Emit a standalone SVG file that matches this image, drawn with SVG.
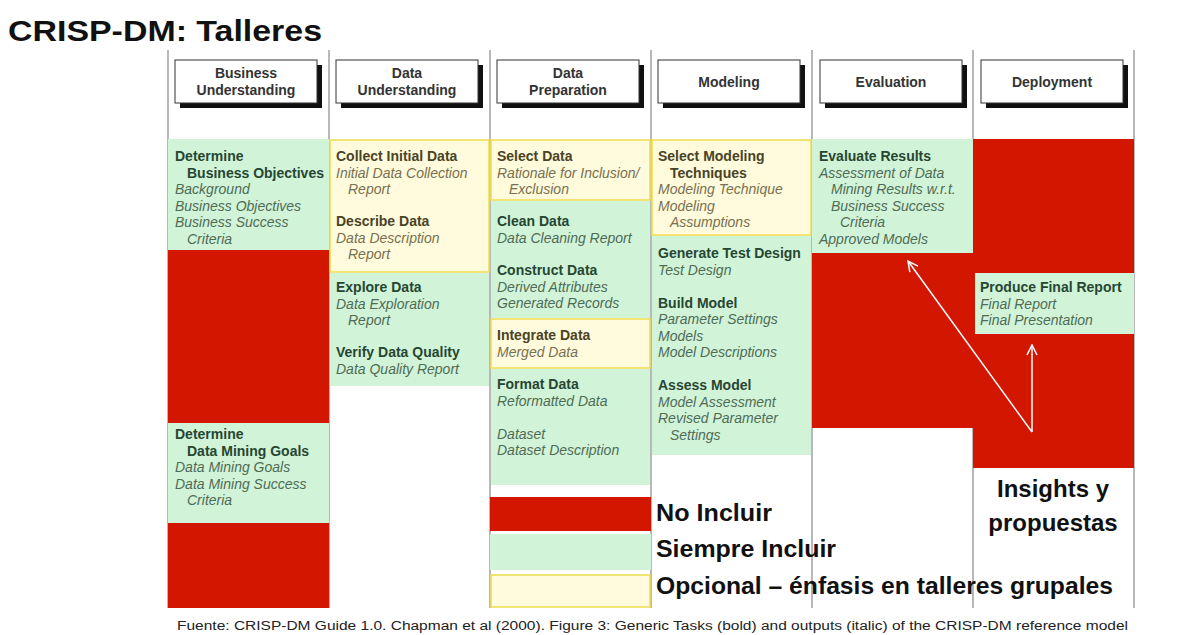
<svg xmlns="http://www.w3.org/2000/svg" width="1181" height="635" viewBox="0 0 1181 635">
<defs>
<style>
.t{font-family:"Liberation Sans",Arial,sans-serif;font-size:14px}
.b{font-weight:bold}
.i{font-style:italic}
.gb{fill:#264631}
.gi{fill:#4f6b55}
.yb{fill:#4a4326}
.yi{fill:#787050}
.green{fill:#d1f4d9}
.yellow{fill:#fffbdc;stroke:#f0dc4c;stroke-width:1.5}
.red{fill:#d21600}
.vline{stroke:#a0a0a0;stroke-width:1.5}
.hbox{fill:#fff;stroke:#333;stroke-width:1}
.hsh{fill:#111}
.ht{font-family:"Liberation Sans",Arial,sans-serif;font-size:14px;font-weight:bold;fill:#333;text-anchor:middle}
.leg{font-family:"Liberation Sans",Arial,sans-serif;font-size:24px;font-weight:bold;fill:#111}
.arrow{stroke:#fff;stroke-width:1.5;fill:none}
</style>
<marker id="ah" viewBox="0 0 12 12" refX="11" refY="6" markerWidth="12" markerHeight="12" markerUnits="userSpaceOnUse" orient="auto">
<path d="M1,1 L11,6 L1,11" fill="none" stroke="#fff" stroke-width="1.5"/>
</marker>
</defs>
<rect width="1181" height="635" fill="#fff"/>
<text x="8" y="41" font-family="Liberation Sans,Arial,sans-serif" font-size="29" font-weight="bold" fill="#111" textLength="314" lengthAdjust="spacingAndGlyphs">CRISP-DM: Talleres</text>

<g id="grid">
<line class="vline" x1="168" y1="50" x2="168" y2="608"/>
<line class="vline" x1="329" y1="50" x2="329" y2="608"/>
<line class="vline" x1="490" y1="50" x2="490" y2="608"/>
<line class="vline" x1="651" y1="50" x2="651" y2="608"/>
<line class="vline" x1="812" y1="50" x2="812" y2="608"/>
<line class="vline" x1="973" y1="50" x2="973" y2="608"/>
<line class="vline" x1="1134" y1="50" x2="1134" y2="608"/>
</g>

<g id="headers">
<g id="h-business">
<rect class="hsh" x="180" y="65" width="142" height="43"/>
<rect class="hbox" x="175" y="60" width="142" height="43"/>
<text class="ht" x="246" y="78">Business</text>
<text class="ht" x="246" y="95">Understanding</text>
</g>
<g id="h-data-understanding">
<rect class="hsh" x="341" y="65" width="142" height="43"/>
<rect class="hbox" x="336" y="60" width="142" height="43"/>
<text class="ht" x="407" y="78">Data</text>
<text class="ht" x="407" y="95">Understanding</text>
</g>
<g id="h-data-preparation">
<rect class="hsh" x="502" y="65" width="142" height="43"/>
<rect class="hbox" x="497" y="60" width="142" height="43"/>
<text class="ht" x="568" y="78">Data</text>
<text class="ht" x="568" y="95">Preparation</text>
</g>
<g id="h-modeling">
<rect class="hsh" x="663" y="65" width="142" height="43"/>
<rect class="hbox" x="658" y="60" width="142" height="43"/>
<text class="ht" x="729" y="87">Modeling</text>
</g>
<g id="h-evaluation">
<rect class="hsh" x="825" y="65" width="142" height="43"/>
<rect class="hbox" x="820" y="60" width="142" height="43"/>
<text class="ht" x="891" y="87">Evaluation</text>
</g>
<g id="h-deployment">
<rect class="hsh" x="986" y="65" width="142" height="43"/>
<rect class="hbox" x="981" y="60" width="142" height="43"/>
<text class="ht" x="1052" y="87">Deployment</text>
</g>
</g>

<g id="col-business">
<g id="bu-objectives">
<rect class="green" x="168" y="139" width="161" height="111"/>
<text class="t b gb" x="175" y="161">Determine</text>
<text class="t b gb" x="187" y="177.5">Business Objectives</text>
<text class="t i gi" x="175" y="194">Background</text>
<text class="t i gi" x="175" y="210.5">Business Objectives</text>
<text class="t i gi" x="175" y="227">Business Success</text>
<text class="t i gi" x="187" y="243.5">Criteria</text>
</g>
<rect class="red" x="168" y="250" width="161" height="173"/>
<g id="bu-goals">
<rect class="green" x="168" y="423" width="161" height="100"/>
<text class="t b gb" x="175" y="439">Determine</text>
<text class="t b gb" x="187" y="455.5">Data Mining Goals</text>
<text class="t i gi" x="175" y="472">Data Mining Goals</text>
<text class="t i gi" x="175" y="488.5">Data Mining Success</text>
<text class="t i gi" x="187" y="505">Criteria</text>
</g>
<rect class="red" x="168" y="523" width="161" height="85"/>
</g>

<g id="col-data-understanding">
<g id="du-collect">
<rect class="yellow" x="330" y="140" width="159" height="132"/>
<text class="t b yb" x="336" y="161">Collect Initial Data</text>
<text class="t i yi" x="336" y="177.5">Initial Data Collection</text>
<text class="t i yi" x="348" y="194">Report</text>
<text class="t b yb" x="336" y="226">Describe Data</text>
<text class="t i yi" x="336" y="242.5">Data Description</text>
<text class="t i yi" x="348" y="259">Report</text>
</g>
<g id="du-explore">
<rect class="green" x="330" y="273" width="159" height="113"/>
<text class="t b gb" x="336" y="292">Explore Data</text>
<text class="t i gi" x="336" y="308.5">Data Exploration</text>
<text class="t i gi" x="348" y="325">Report</text>
<text class="t b gb" x="336" y="357">Verify Data Quality</text>
<text class="t i gi" x="336" y="373.5">Data Quality Report</text>
</g>
</g>

<g id="col-data-preparation">
<g id="dp-select">
<rect class="yellow" x="491" y="140" width="159" height="60"/>
<text class="t b yb" x="497" y="161">Select Data</text>
<text class="t i yi" x="497" y="177.5">Rationale for Inclusion/</text>
<text class="t i yi" x="509" y="194">Exclusion</text>
</g>
<g id="dp-clean">
<rect class="green" x="491" y="201" width="159" height="117"/>
<text class="t b gb" x="497" y="226">Clean Data</text>
<text class="t i gi" x="497" y="242.5">Data Cleaning Report</text>
<text class="t b gb" x="497" y="275">Construct Data</text>
<text class="t i gi" x="497" y="291.5">Derived Attributes</text>
<text class="t i gi" x="497" y="308">Generated Records</text>
</g>
<g id="dp-integrate">
<rect class="yellow" x="491" y="319" width="159" height="49"/>
<text class="t b yb" x="497" y="340">Integrate Data</text>
<text class="t i yi" x="497" y="356.5">Merged Data</text>
</g>
<g id="dp-format">
<rect class="green" x="491" y="369" width="159" height="116"/>
<text class="t b gb" x="497" y="389">Format Data</text>
<text class="t i gi" x="497" y="405.5">Reformatted Data</text>
<text class="t i gi" x="497" y="438.5">Dataset</text>
<text class="t i gi" x="497" y="455">Dataset Description</text>
</g>
</g>

<g id="col-modeling">
<g id="mo-select">
<rect class="yellow" x="652" y="140" width="159" height="95"/>
<text class="t b yb" x="658" y="161">Select Modeling</text>
<text class="t b yb" x="670" y="177.5">Techniques</text>
<text class="t i yi" x="658" y="194">Modeling Technique</text>
<text class="t i yi" x="658" y="210.5">Modeling</text>
<text class="t i yi" x="670" y="227">Assumptions</text>
</g>
<g id="mo-build">
<rect class="green" x="652" y="236" width="159" height="219"/>
<text class="t b gb" x="658" y="258">Generate Test Design</text>
<text class="t i gi" x="658" y="274.5">Test Design</text>
<text class="t b gb" x="658" y="307.5">Build Model</text>
<text class="t i gi" x="658" y="324">Parameter Settings</text>
<text class="t i gi" x="658" y="340.5">Models</text>
<text class="t i gi" x="658" y="357">Model Descriptions</text>
<text class="t b gb" x="658" y="390">Assess Model</text>
<text class="t i gi" x="658" y="406.5">Model Assessment</text>
<text class="t i gi" x="658" y="423">Revised Parameter</text>
<text class="t i gi" x="670" y="439.5">Settings</text>
</g>
</g>

<g id="col-evaluation">
<g id="ev-results">
<rect class="green" x="812" y="139" width="161" height="114"/>
<text class="t b gb" x="819" y="161">Evaluate Results</text>
<text class="t i gi" x="819" y="177.5">Assessment of Data</text>
<text class="t i gi" x="831" y="194">Mining Results w.r.t.</text>
<text class="t i gi" x="831" y="210.5">Business Success</text>
<text class="t i gi" x="840" y="227">Criteria</text>
<text class="t i gi" x="819" y="243.5">Approved Models</text>
</g>
<rect class="red" x="812" y="253" width="161" height="175"/>
</g>

<g id="col-deployment">
<rect class="red" x="973" y="139" width="161" height="329"/>
<g id="de-report">
<rect class="green" x="975" y="273" width="159" height="61"/>
<text class="t b gb" x="980" y="292">Produce Final Report</text>
<text class="t i gi" x="980" y="308.5">Final Report</text>
<text class="t i gi" x="980" y="325">Final Presentation</text>
</g>
<g id="insights">
<text class="leg" x="1053" y="497" text-anchor="middle">Insights y</text>
<text class="leg" x="1053" y="531" text-anchor="middle">propuestas</text>
</g>
</g>

<g id="connectors">
<line class="arrow" x1="1032" y1="432" x2="908" y2="261" marker-end="url(#ah)"/>
<line class="arrow" x1="1032" y1="432" x2="1032" y2="345" marker-end="url(#ah)"/>
</g>

<g id="legend">
<rect class="red" x="490" y="497" width="161" height="34"/>
<rect class="green" x="490" y="534" width="161" height="36"/>
<rect class="yellow" x="491" y="575" width="159" height="32"/>
<text class="leg" x="656" y="521" textLength="116" lengthAdjust="spacingAndGlyphs">No Incluir</text>
<text class="leg" x="656" y="557" textLength="180" lengthAdjust="spacingAndGlyphs">Siempre Incluir</text>
<text class="leg" x="656" y="594" textLength="457" lengthAdjust="spacingAndGlyphs">Opcional – énfasis en talleres grupales</text>
</g>

<text x="177" y="630" font-family="Liberation Sans,Arial,sans-serif" font-size="12.5" fill="#222" textLength="951" lengthAdjust="spacingAndGlyphs">Fuente: CRISP-DM Guide 1.0. Chapman et al (2000). Figure 3: Generic Tasks (bold) and outputs (italic) of the CRISP-DM reference model</text>
</svg>
